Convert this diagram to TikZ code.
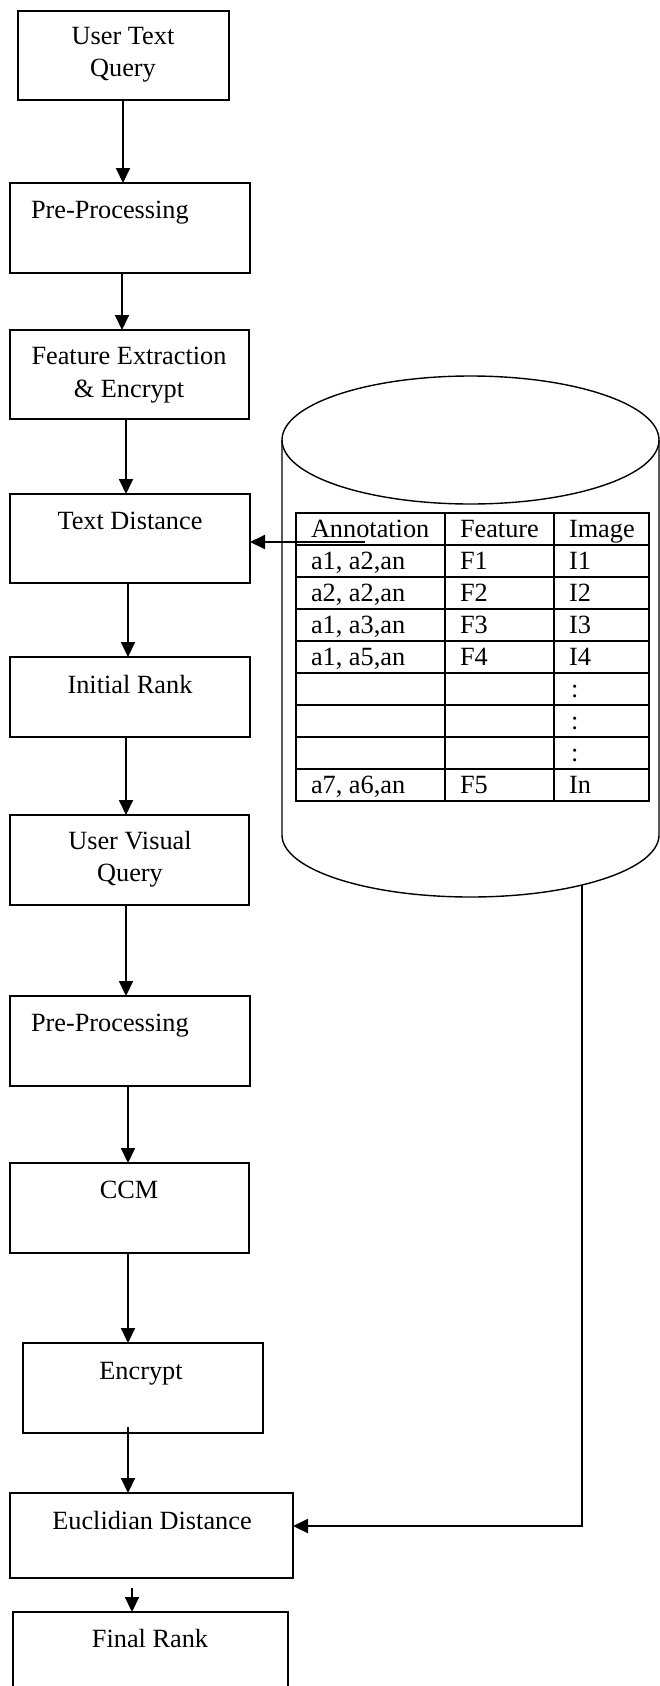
\documentclass[tikz,border=0pt]{standalone}
\usepackage{fontspec}
\setmainfont{Liberation Serif}
\usetikzlibrary{arrows.meta,calc}
\begin{document}
\begin{tikzpicture}[x=1pt,y=-1pt,
  box/.style={draw, line width=1.4pt, inner sep=0pt, outer sep=0pt},
  lbl/.style={anchor=base, inner sep=0pt, outer sep=0pt, font=\fontsize{26.3}{32}\selectfont},
  lblw/.style={lbl, anchor=base west},
  arr/.style={line width=2pt, -{Triangle[length=15pt,width=14pt]}},
  cyl/.style={line width=1.4pt},
  grid/.style={line width=1.4pt}]
\useasboundingbox (0,0) rectangle (660,1686);

% ---- flow boxes ----
\node[box, minimum width=211pt, minimum height=89pt] (utq) at (123.5,55.5) {};
\node[box, minimum width=240pt, minimum height=90pt] (pp1) at (130,228) {};
\node[box, minimum width=239pt, minimum height=89pt] (fe)  at (129.5,374.5) {};
\node[box, minimum width=240pt, minimum height=89pt] (td)  at (130,538.5) {};
\node[box, minimum width=240pt, minimum height=80pt] (ir)  at (130,697) {};
\node[box, minimum width=239pt, minimum height=90pt] (uvq) at (129.5,860) {};
\node[box, minimum width=240pt, minimum height=90pt] (pp2) at (130,1041) {};
\node[box, minimum width=239pt, minimum height=90pt] (ccm) at (129.5,1208) {};
\node[box, minimum width=240pt, minimum height=90pt] (enc) at (143,1388) {};
\node[box, minimum width=283pt, minimum height=85pt] (euc) at (151.5,1535.5) {};
\node[box, minimum width=275pt, minimum height=90pt] (fin) at (150.5,1657) {};

% ---- labels ----
\node[lbl] (utq1) at (123,45) {User Text};
\node[lbl] (utq2) at (123,77) {Query};
\node[lblw] (pp1t) at (31,218) {Pre-Processing};
\node[lbl] (fe1) at (129,364) {Feature Extraction};
\node[lbl] (fe2) at (129,397) {\& Encrypt};
\node[lbl] (tdt) at (130,529) {Text Distance};
\node[lbl] (irt) at (130,693) {Initial Rank};
\node[lbl] (uvq1) at (130,849) {User Visual};
\node[lbl] (uvq2) at (130,881) {Query};
\node[lblw] (pp2t) at (31,1031) {Pre-Processing};
\node[lbl] (ccmt) at (129,1198) {CCM};
\node[lbl] (enct) at (141,1379) {Encrypt};
\node[lbl] (euct) at (152,1529) {Euclidian Distance};
\node[lbl] (fint) at (150,1647) {Final Rank};

% ---- database cylinder ----
\draw[cyl] (470.5,440) ellipse [x radius=188.5pt, y radius=64pt];
\draw[cyl] (282,440) -- (282,835)
  arc[start angle=180, end angle=360, x radius=188.5pt, y radius=62pt]
  -- (659,440);

% ---- table ----
\node[box, minimum width=353pt, minimum height=288pt] (tbl) at (472.5,657) {};
\foreach \yy in {545,577,609,641,673,705,737,769}
  \draw[grid] (296,\yy) -- (649,\yy);
\draw[grid] (445,513) -- (445,801);
\draw[grid] (554,513) -- (554,801);

\node[lblw] (h1) at (311,537) {Annotation};
\node[lblw] (h2) at (460,537) {Feature};
\node[lblw] (h3) at (569,537) {Image};
\node[lblw] (r1a) at (311,569) {a1, a2,an};
\node[lblw] (r1b) at (460,569) {F1};
\node[lblw] (r1c) at (569,569) {I1};
\node[lblw] (r2a) at (311,601) {a2, a2,an};
\node[lblw] (r2b) at (460,601) {F2};
\node[lblw] (r2c) at (569,601) {I2};
\node[lblw] (r3a) at (311,633) {a1, a3,an};
\node[lblw] (r3b) at (460,633) {F3};
\node[lblw] (r3c) at (569,633) {I3};
\node[lblw] (r4a) at (311,665) {a1, a5,an};
\node[lblw] (r4b) at (460,665) {F4};
\node[lblw] (r4c) at (569,665) {I4};
\node[lblw] (r5c) at (571,697) {:};
\node[lblw] (r6c) at (571,729) {:};
\node[lblw] (r7c) at (571,761) {:};
\node[lblw] (r8a) at (311,793) {a7, a6,an};
\node[lblw] (r8b) at (460,793) {F5};
\node[lblw] (r8c) at (569,793) {In};

% ---- connectors ----
\draw[arr] (123,0 |- utq.south) -- (123,0 |- pp1.north);
\draw[arr] (122,0 |- pp1.south) -- (122,0 |- fe.north);
\draw[arr] (126,0 |- fe.south) -- (126,0 |- td.north);
\draw[arr] (128,0 |- td.south) -- (128,0 |- ir.north);
\draw[arr] (126,0 |- ir.south) -- (126,0 |- uvq.north);
\draw[arr] (126,0 |- uvq.south) -- (126,0 |- pp2.north);
\draw[arr] (128,0 |- pp2.south) -- (128,0 |- ccm.north);
\draw[arr] (128,0 |- ccm.south) -- (128,0 |- enc.north);
\coordinate (encout) at (128,1427);
\draw[arr] (encout) -- (encout |- euc.north);
\coordinate (eucout) at (132,1588);
\draw[arr] (eucout) -- (eucout |- fin.north);

\coordinate (tblout) at (365,542);
\draw[arr] (tblout) -- (tblout -| td.east);

\coordinate (cylb) at (582,885);
\coordinate (corner) at (582,1526);
\draw[arr] (cylb) -- (corner) -- (corner -| euc.east);
\end{tikzpicture}
\end{document}
